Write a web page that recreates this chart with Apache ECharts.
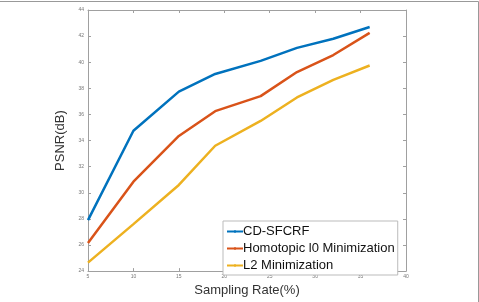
<html>
<head>
<meta charset="utf-8">
<script src="https://cdn.jsdelivr.net/npm/echarts@6/dist/echarts.min.js"></script>
<style>html,body{margin:0;padding:0;background:#fff}#main{width:479px;height:302px}</style>
</head>
<body>
<div id="main"></div>
<script>
var rates = [5, 10, 15, 19, 24, 28, 32, 36];
var cdSfcrf = [27.9, 34.75, 37.75, 39.1, 40.1, 41.1, 41.8, 42.7];
var homotopic = [26.15, 30.85, 34.35, 36.25, 37.4, 39.25, 40.55, 42.25];
var l2Min = [24.65, 27.6, 30.6, 33.6, 35.5, 37.3, 38.65, 39.75];

function pairs(ys) {
    return rates.map(function (x, i) { return [x, ys[i]]; });
}

var chart = echarts.init(document.getElementById('main'));
var axisGray = '#a0a0a0';
var tickLbl = { fontSize: 5, color: '#777', fontFamily: 'Liberation Sans' };

chart.setOption({
    animation: false,
    grid: { left: 88, right: 73, top: 10, bottom: 24 },
    graphic: [
        { type: 'line', shape: { x1: 0, y1: 1.5, x2: 478.5, y2: 1.5 }, style: { stroke: '#999', lineWidth: 1 } },
        { type: 'line', shape: { x1: 478.5, y1: 1.5, x2: 478.5, y2: 302 }, style: { stroke: '#999', lineWidth: 1 } }
    ],
    legend: {
        orient: 'vertical',
        left: 223, top: 221,
        padding: [4, 3, 3, 3],
        itemWidth: 16, itemHeight: 3,
        itemGap: 4,
        borderColor: '#bbb', borderWidth: 1, backgroundColor: '#fff',
        textStyle: { fontSize: 13, color: '#111', fontFamily: 'Liberation Sans', padding: [0, 0, 0, -5] },
        data: ['CD-SFCRF', 'Homotopic l0 Minimization', 'L2 Minimization']
    },
    xAxis: [{
        type: 'value', min: 5, max: 40, interval: 5,
        name: 'Sampling Rate(%)', nameLocation: 'middle', nameGap: 10,
        nameTextStyle: { fontSize: 13, color: '#333', fontFamily: 'Liberation Sans' },
        axisLine: { lineStyle: { color: axisGray } },
        axisTick: { inside: true, length: 3, lineStyle: { color: axisGray } },
        axisLabel: Object.assign({ margin: 3 }, tickLbl),
        splitLine: { show: false }
    }, {
        type: 'value', min: 5, max: 40, interval: 5, position: 'top',
        axisLine: { lineStyle: { color: axisGray } },
        axisTick: { inside: true, length: 3, lineStyle: { color: axisGray } },
        axisLabel: { show: false }, splitLine: { show: false }
    }],
    yAxis: [{
        type: 'value', min: 24, max: 44, interval: 2,
        name: 'PSNR(dB)', nameLocation: 'middle', nameGap: 21,
        nameTextStyle: { fontSize: 13, color: '#333', fontFamily: 'Liberation Sans' },
        axisLine: { show: true, lineStyle: { color: axisGray } },
        axisTick: { show: true, inside: true, length: 3, lineStyle: { color: axisGray } },
        axisLabel: Object.assign({ margin: 4 }, tickLbl),
        splitLine: { show: false }
    }, {
        type: 'value', min: 24, max: 44, interval: 2, position: 'right',
        axisLine: { show: true, lineStyle: { color: axisGray } },
        axisTick: { show: true, inside: true, length: 3, lineStyle: { color: axisGray } },
        axisLabel: { show: false }, splitLine: { show: false }
    }],
    series: [{
        name: 'CD-SFCRF', type: 'line', data: pairs(cdSfcrf),
        symbol: 'none', color: '#0072BD', lineStyle: { width: 2.5 }
    }, {
        name: 'Homotopic l0 Minimization', type: 'line', data: pairs(homotopic),
        symbol: 'none', color: '#D95319', lineStyle: { width: 2.5 }
    }, {
        name: 'L2 Minimization', type: 'line', data: pairs(l2Min),
        symbol: 'none', color: '#EDB120', lineStyle: { width: 2.5 }
    }]
});
</script>
</body>
</html>
